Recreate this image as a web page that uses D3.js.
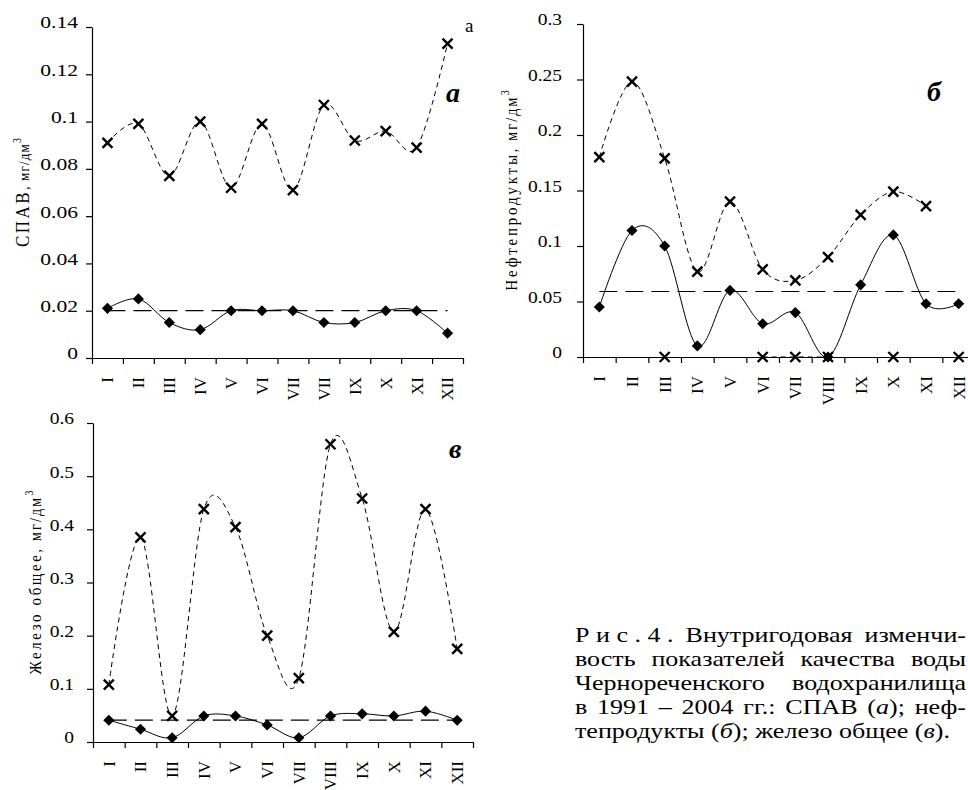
<!DOCTYPE html>
<html>
<head>
<meta charset="utf-8">
<script src="https://cdn.jsdelivr.net/npm/d3@7"></script>
<style>
  body { margin: 0; background: #fff; }
  svg { display: block; font-family: "Liberation Serif", "Times New Roman", serif; }
</style>
</head>
<body>
<svg width="968" height="790"></svg>
<script>
'use strict';

// month labels as printed (panel a repeats "VII" for August)
var monthsA = ['I', 'II', 'III', 'IV', 'V', 'VI', 'VII', 'VII', 'IX', 'X', 'XI', 'XII'];
var months = ['I', 'II', 'III', 'IV', 'V', 'VI', 'VII', 'VIII', 'IX', 'X', 'XI', 'XII'];

// a: СПАВ
var spavMax = [0.091, 0.099, 0.077, 0.100, 0.072, 0.099, 0.071, 0.107, 0.092, 0.096, 0.089, 0.133];
var spavMean = [0.021, 0.025, 0.015, 0.012, 0.020, 0.020, 0.020, 0.015, 0.015, 0.020, 0.020, 0.0105];
var spavAvg = 0.02;
var spavTicks = [0, 0.02, 0.04, 0.06, 0.08, 0.1, 0.12, 0.14];

// б: нефтепродукты
var neftMax = [0.18, 0.248, 0.179, 0.077, 0.14, 0.079, 0.069, 0.09, 0.128, 0.149, 0.136, null];
var neftMin = [null, null, 0, null, null, 0, 0, 0, null, 0, null, 0];
var neftMean = [0.045, 0.114, 0.1, 0.01, 0.06, 0.03, 0.04, 0, 0.065, 0.11, 0.048, 0.048];
var neftAvg = 0.059;
var neftTicks = [0, 0.05, 0.1, 0.15, 0.2, 0.25, 0.3];

// в: железо общее
var ironMax = [0.108, 0.385, 0.049, 0.438, 0.404, 0.2, 0.12, 0.56, 0.458, 0.207, 0.438, 0.175];
var ironMean = [0.041, 0.024, 0.008, 0.049, 0.049, 0.032, 0.008, 0.049, 0.053, 0.049, 0.058, 0.041];
var ironAvg = 0.041;
var ironTicks = [0, 0.1, 0.2, 0.3, 0.4, 0.5, 0.6];

var svg = d3.select('svg').attr('font-family', '"Liberation Serif", serif');
var fmt = d => d === 0 ? '0' : String(+d.toFixed(2));

var crossPath = 'M-5,-5L5,5M5,-5L-5,5';
var diamond = d3.symbol(d3.symbolSquare, 62);

function drawPanel(p) {
  var x = d3.scaleLinear().domain([0, 12]).range([p.left, p.right]);
  var xc = d3.scaleBand().domain(d3.range(12)).range([p.left, p.right]);
  var bw = xc.bandwidth();
  var cx = i => xc(i) + bw / 2;
  var y = d3.scaleLinear().domain([0, d3.max(p.ticks)]).range([p.bottom, p.top]);
  var g = svg.append('g');

  var ya = g.append('g')
    .attr('transform', `translate(${p.left},0)`)
    .call(d3.axisLeft(y).tickValues(p.ticks).tickSize(6).tickSizeOuter(0).tickFormat(fmt));
  ya.attr('font-family', null).attr('font-size', 16);
  ya.selectAll('text')
    .attr('x', -p.gap / p.sx)
    .attr('dy', '0.06em')
    .attr('transform', `scale(${p.sx},1)`)
    .attr('fill', '#000');

  g.append('g')
    .attr('transform', `translate(0,${p.bottom})`)
    .call(d3.axisBottom(x).tickValues(d3.range(13)).tickSize(6).tickSizeOuter(0).tickFormat(''));

  var xl = g.append('g')
    .attr('transform', `translate(0,${p.bottom})`)
    .call(d3.axisBottom(xc).tickSize(0).tickFormat(i => p.labels[i]));
  xl.attr('font-family', null).attr('font-size', 17);
  xl.select('.domain').remove();
  xl.selectAll('text')
    .attr('transform', 'rotate(-90)')
    .attr('text-anchor', 'end')
    .attr('x', -19)
    .attr('y', 0)
    .attr('dy', '0.35em')
    .attr('fill', '#000');

  g.selectAll('.domain, .tick line').attr('stroke', '#000').attr('stroke-width', 1.2);

  var line = d3.line()
    .defined(d => d != null)
    .x((d, i) => cx(i))
    .y(d => y(d))
    .curve(d3.curveCatmullRom.alpha(0));

  // annual mean
  g.append('path')
    .attr('d', d3.line()([[cx(0), y(p.avg)], [cx(11), y(p.avg)]]))
    .attr('fill', 'none')
    .attr('stroke', '#000')
    .attr('stroke-width', 1.2)
    .attr('stroke-dasharray', '18,8');

  p.crosses.forEach(s => {
    g.append('path')
      .attr('d', line(s))
      .attr('fill', 'none')
      .attr('stroke', '#000')
      .attr('stroke-width', 1)
      .attr('stroke-dasharray', '5,4');
  });

  g.append('path')
    .attr('d', line(p.mean))
    .attr('fill', 'none')
    .attr('stroke', '#000')
    .attr('stroke-width', 1);

  p.crosses.forEach(s => {
    g.selectAll(null)
      .data(s.map((v, i) => [i, v]).filter(d => d[1] != null))
      .enter().append('path')
      .attr('transform', d => `translate(${cx(d[0])},${y(d[1])})`)
      .attr('d', crossPath)
      .attr('stroke', '#000')
      .attr('stroke-width', 2.4);
  });

  g.selectAll(null)
    .data(p.mean)
    .enter().append('path')
    .attr('transform', (d, i) => `translate(${cx(i)},${y(d)}) rotate(45)`)
    .attr('d', diamond)
    .attr('fill', '#000');

  // y title
  var t = g.append('text')
    .attr('transform', `translate(${p.tx},${(p.top + p.bottom) / 2}) scale(1.15,1) rotate(-90)`)
    .attr('text-anchor', 'middle')
    .attr('fill', '#000');
  t.append('tspan').attr('font-size', p.t1size).attr('letter-spacing', p.t1ls).text(p.title);
  t.append('tspan').attr('font-size', p.t2size).attr('letter-spacing', p.t2ls).text(', мг/дм');
  t.append('tspan').attr('font-size', 10).attr('dy', -7).text('3');

  g.append('text')
    .attr('x', p.mx).attr('y', p.my)
    .attr('font-size', 28).attr('font-weight', 'bold').attr('font-style', 'italic')
    .attr('fill', '#000')
    .text(p.mark);
}

drawPanel({
  left: 92, right: 463, top: 27, bottom: 358,
  ticks: spavTicks, labels: monthsA, gap: 14, sx: 1.35,
  crosses: [spavMax], mean: spavMean, avg: spavAvg,
  tx: 29, title: 'СПАВ', t1size: 17, t1ls: 2.5, t2size: 13, t2ls: 1.2,
  mark: 'а', mx: 446, my: 102
});

drawPanel({
  left: 583, right: 975, top: 24, bottom: 357,
  ticks: neftTicks, labels: months, gap: 21, sx: 1.22,
  crosses: [neftMax, neftMin], mean: neftMean, avg: neftAvg,
  tx: 517, title: 'Нефтепродукты', t1size: 15, t1ls: 2.8, t2size: 14, t2ls: 2.2,
  mark: 'б', mx: 927, my: 101
});

drawPanel({
  left: 93, right: 473, top: 423, bottom: 742,
  ticks: ironTicks, labels: months, gap: 19, sx: 1.22,
  crosses: [ironMax], mean: ironMean, avg: ironAvg,
  tx: 41, title: 'Железо общее', t1size: 15, t1ls: 2.6, t2size: 14, t2ls: 2.2,
  mark: 'в', mx: 449, my: 458
});

svg.append('text')
  .attr('x', 465).attr('y', 32)
  .attr('font-size', 19).attr('fill', '#000')
  .text('a');

// caption, justified between capX0 and capX1
var capLines = [
  [[['Р и с . 4 .', 0]], [['Внутригодовая', 0]], [['изменчи-', 0]]],
  [[['вость', 0]], [['показателей', 0]], [['качества', 0]], [['воды', 0]]],
  [[['Чернореченского', 0]], [['водохранилища', 0]]],
  [[['в', 0]], [['1991', 0]], [['–', 0]], [['2004', 0]], [['гг.:', 0]], [['СПАВ', 0]], [['(', 0], ['а', 1], [');', 0]], [['неф-', 0]]],
  [[['тепродукты', 0]], [['(', 0], ['б', 1], [');', 0]], [['железо', 0]], [['общее', 0]], [['(', 0], ['в', 1], [').', 0]]]
];
var capX0 = 575, capX1 = 966, capY0 = 642, capDy = 24, capSx = 1.24;

var cap = svg.append('g')
  .attr('transform', `translate(${capX0},0) scale(${capSx},1)`)
  .attr('font-size', 21)
  .attr('fill', '#000');

capLines.forEach((words, li) => {
  var yy = capY0 + li * capDy;
  var els = words.map(runs => {
    var te = cap.append('text').attr('y', yy);
    runs.forEach(r => te.append('tspan').attr('font-style', r[1] ? 'italic' : null).text(r[0]));
    return te;
  });
  var widths = els.map(e => e.node().getComputedTextLength());
  var total = d3.sum(widths);
  var avail = (capX1 - capX0) / capSx;
  var gap = li < capLines.length - 1 ? (avail - total) / (els.length - 1) : 5.25;
  var pos = 0;
  els.forEach((e, i) => { e.attr('x', pos); pos += widths[i] + gap; });
});
</script>
</body>
</html>
